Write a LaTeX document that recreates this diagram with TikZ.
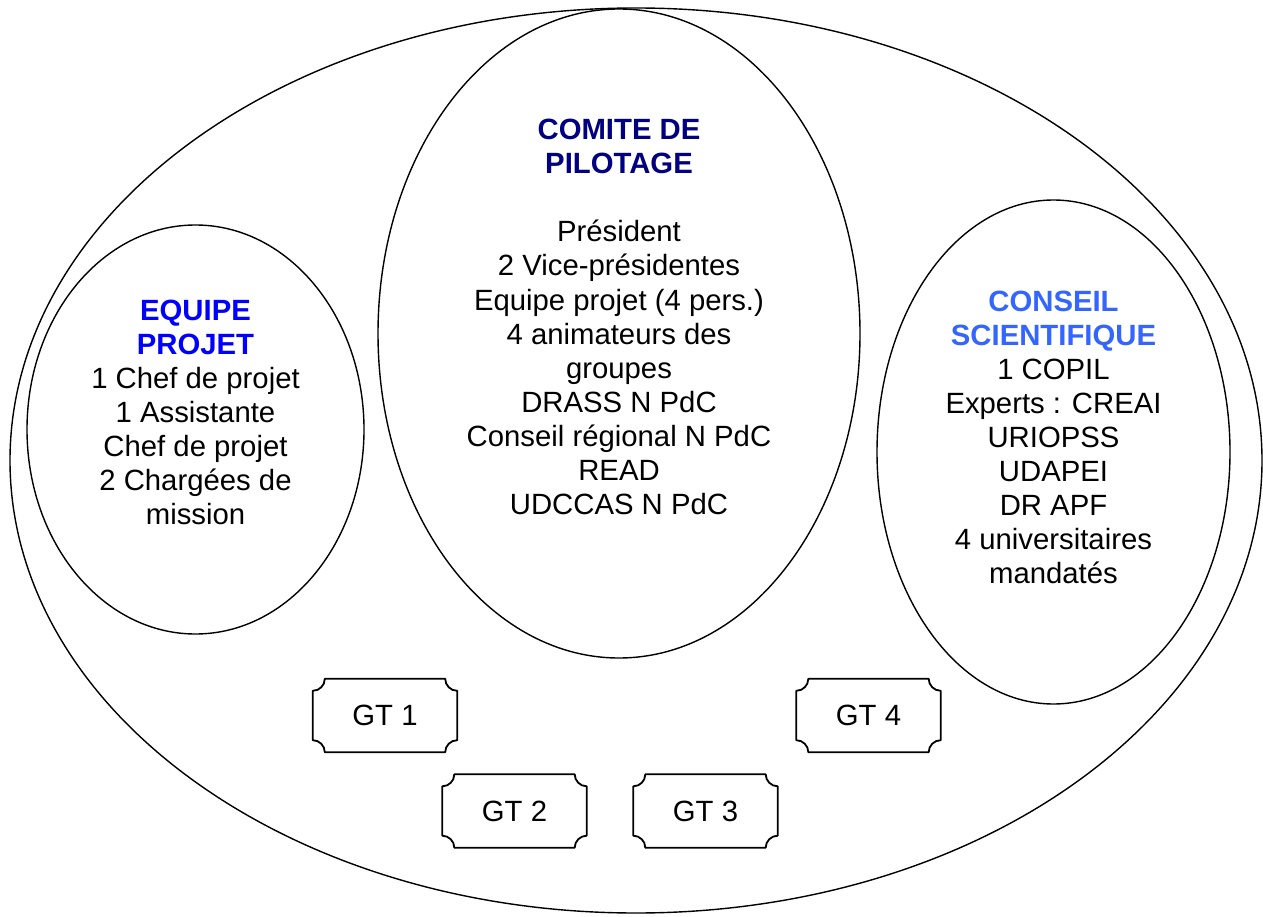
\documentclass[tikz,border=0pt]{standalone}
\usepackage{fontspec}
\setmainfont{Liberation Sans}
\usetikzlibrary{shapes.geometric,calc}
\definecolor{navy}{HTML}{000080}
\definecolor{pureblue}{HTML}{0000FF}
\definecolor{lightblue}{HTML}{3366FF}
\begin{document}
\begin{tikzpicture}[x=1pt,y=-1pt,
  ell/.style={ellipse, draw, line width=1.4pt, inner sep=0pt},
  txt/.style={anchor=base, inner sep=0pt, font=\fontsize{29.3}{34}\selectfont},
  ttl/.style={anchor=base, inner sep=0pt, font=\fontsize{29.3}{34}\selectfont\bfseries},
  gtnode/.style={rectangle, inner sep=0pt, minimum width=144pt, minimum height=73pt, font=\fontsize{29.3}{34}\selectfont},
  gtline/.style={draw, line width=1.8pt, line join=round}]
\useasboundingbox (0,0) rectangle (1263,917);
% ellipses
\node[ell, minimum width=1252pt, minimum height=905pt] (outer) at (636,460.5) {};
\node[ell, minimum width=482pt, minimum height=649pt] (copil) at (619,333.5) {};
\node[ell, minimum width=337pt, minimum height=409pt] (equipe) at (195.5,429.5) {};
\node[ell, minimum width=353pt, minimum height=504pt] (conseil) at (1053.5,452) {};
% comite de pilotage
\node[ttl, text=navy] (c1) at (619,140) {COMITE DE};
\node[ttl, text=navy] (c2) at (619,174) {PILOTAGE};
\node[txt] (c3) at (619,242) {Président};
\node[txt] (c4) at (619,276) {2 Vice-présidentes};
\node[txt] (c5) at (619,310) {Equipe projet (4 pers.)};
\node[txt] (c6) at (619,344) {4 animateurs des};
\node[txt] (c7) at (619,378) {groupes};
\node[txt] (c8) at (619,412) {DRASS N PdC};
\node[txt] (c9) at (619,446) {Conseil régional N PdC};
\node[txt] (c10) at (619,480) {READ};
\node[txt] (c11) at (619,514) {UDCCAS N PdC};
% equipe projet
\node[ttl, text=pureblue] (e1) at (195.5,320) {EQUIPE};
\node[ttl, text=pureblue] (e2) at (195.5,354) {PROJET};
\node[txt] (e3) at (195.5,388) {1 Chef de projet};
\node[txt] (e4) at (195.5,422) {1 Assistante};
\node[txt] (e5) at (195.5,456) {Chef de projet};
\node[txt] (e6) at (195.5,490) {2 Chargées de};
\node[txt] (e7) at (195.5,524) {mission};
% conseil scientifique
\node[ttl, text=lightblue] (s1) at (1053.5,311) {CONSEIL};
\node[ttl, text=lightblue] (s2) at (1053.5,345) {SCIENTIFIQUE};
\node[txt] (s3) at (1053.5,379) {1 COPIL};
\node[txt] (s4) at (1053.5,413) {Experts : CREAI};
\node[txt] (s5) at (1053.5,447) {URIOPSS};
\node[txt] (s6) at (1053.5,481) {UDAPEI};
\node[txt] (s7) at (1053.5,515) {DR APF};
\node[txt] (s8) at (1053.5,549) {4 universitaires};
\node[txt] (s9) at (1053.5,583) {mandatés};
% GT boxes
\node[gtnode] (g1) at (385,715.5) {GT 1};
\node[gtnode] (g2) at (514.5,811) {GT 2};
\node[gtnode] (g3) at (705.5,811) {GT 3};
\node[gtnode] (g4) at (868.5,715.5) {GT 4};
\foreach \n in {g1,g2,g3,g4} {
  \draw[gtline] ($(\n.north west)+(12,0)$) -- ($(\n.north east)+(-12,0)$)
    arc[start angle=180, end angle=90, radius=12]
    -- ($(\n.south east)+(0,-12)$)
    arc[start angle=270, end angle=180, radius=12]
    -- ($(\n.south west)+(12,0)$)
    arc[start angle=360, end angle=270, radius=12]
    -- ($(\n.north west)+(0,12)$)
    arc[start angle=90, end angle=0, radius=12] -- cycle;
}
\end{tikzpicture}
\end{document}
